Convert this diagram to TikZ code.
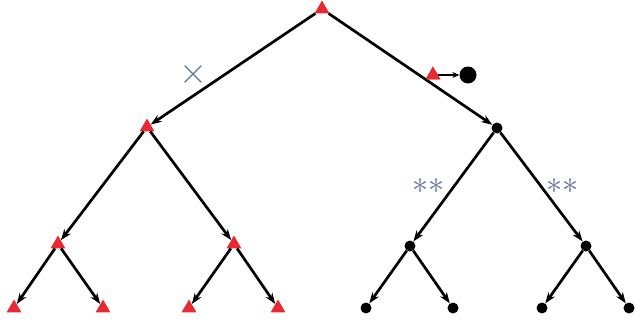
\documentclass[tikz,border=0pt]{standalone}
\usetikzlibrary{shapes.geometric,arrows.meta}
\definecolor{tri}{RGB}{232,40,50}
\definecolor{mark}{RGB}{95,115,155}
\begin{document}
\begin{tikzpicture}[x=1pt,y=1pt,
  tnode/.style={regular polygon,regular polygon sides=3,fill=tri,inner sep=0pt,minimum size=17pt},
  dnode/.style={circle,fill=black,inner sep=0pt,minimum size=11pt},
  bignode/.style={circle,fill=black,inner sep=0pt,minimum size=17pt},
  edge/.style={line width=2.7pt,-{Stealth[length=11pt,width=8pt]}},
  thinedge/.style={line width=1.3pt,-{Stealth[length=7pt,width=6pt]}},
  marktext/.style={text=mark,inner sep=0pt}]
\useasboundingbox (0,0) rectangle (636,325);
\node[tnode] (root) at (322,316) {};
\node[tnode] (L) at (147,198) {};
\node[dnode] (R) at (497,197) {};
\node[tnode] (LL) at (58,81) {};
\node[tnode] (LR) at (234,81) {};
\node[dnode] (RL) at (410,79) {};
\node[dnode] (RR) at (586,79) {};
\node[tnode] (l1) at (14,17) {};
\node[tnode] (l2) at (103,17) {};
\node[tnode] (l3) at (189,17) {};
\node[tnode] (l4) at (278,17) {};
\node[dnode] (d1) at (366,17) {};
\node[dnode] (d2) at (453,17) {};
\node[dnode] (d3) at (542,17) {};
\node[dnode] (d4) at (629,17) {};
\node[tnode] (mid) at (433,250) {};
\node[bignode] (big) at (468,250) {};
\draw[edge] (root) -- (L);
\draw[edge] (root) -- (R);
\draw[edge] (L) -- (LL);
\draw[edge] (L) -- (LR);
\draw[edge] (R) -- (RL);
\draw[edge] (R) -- (RR);
\draw[edge] (LL) -- (l1);
\draw[edge] (LL) -- (l2);
\draw[edge] (LR) -- (l3);
\draw[edge] (LR) -- (l4);
\draw[edge] (RL) -- (d1);
\draw[edge] (RL) -- (d2);
\draw[edge] (RR) -- (d3);
\draw[edge] (RR) -- (d4);
\node[tnode] at (433,250) {};
\draw[thinedge] (mid.east) -- (big);
\node[marktext,scale=3.6] (x) at (193,251) {$\times$};
\node[marktext,scale=3.2] (s1) at (428,139) {$\ast\ast$};
\node[marktext,scale=3.2] (s2) at (562,139) {$\ast\ast$};
\end{tikzpicture}
\end{document}
